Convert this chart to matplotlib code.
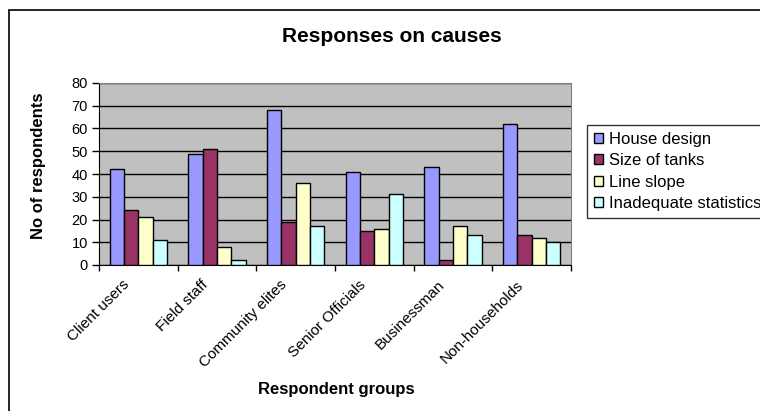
import numpy as np
import matplotlib
matplotlib.use("Agg")
import matplotlib.pyplot as plt
from matplotlib.patches import Rectangle

plt.rcParams['font.family'] = ['Liberation Sans', 'DejaVu Sans']

groups = ["Client users", "Field staff", "Community elites",
          "Senior Officials", "Businessman", "Non-households"]
causes = ["House design", "Size of tanks", "Line slope", "Inadequate statistics"]
house_design = [42, 49, 68, 41, 43, 62]
size_of_tanks = [24, 51, 19, 15, 2, 13]
line_slope = [21, 8, 36, 16, 17, 12]
inadequate_stats = [11, 2, 17, 31, 13, 10]
colors = ["#9999FF", "#993366", "#FFFFCC", "#CCFFFF"]

W, H = 760, 411
fig = plt.figure(figsize=(W / 100, H / 100), dpi=100)
fig.patch.set_facecolor("white")

# outer chart border
fig.patches.append(Rectangle((9 / W, -0.02), 1.0, 1 - 10 / H + 0.02,
                             transform=fig.transFigure, fill=False,
                             edgecolor="black", lw=1.2))

ax = fig.add_axes([99 / W, 1 - 265 / H, 472 / W, 182 / H])
ax.set_facecolor("#C0C0C0")

x = np.arange(len(groups))
bw = 1 / 5.5
series = [house_design, size_of_tanks, line_slope, inadequate_stats]
for i, (vals, c, name) in enumerate(zip(series, colors, causes)):
    ax.bar(x + (i - 1.5) * bw, vals, bw, color=c, edgecolor="black",
           lw=1, label=name, zorder=3)

ax.set_xlim(-0.5, len(groups) - 0.5)
ax.set_ylim(0, 80)
ax.set_yticks(range(0, 81, 10))
ax.yaxis.grid(True, color="black", lw=1, zorder=1)
ax.set_axisbelow(True)
ax.tick_params(axis="y", direction="out", length=5, width=1, labelsize=10.5, pad=3)

ax.set_xticks(np.arange(len(groups) + 1) - 0.5)
ax.set_xticklabels([])
ax.tick_params(axis="x", direction="out", length=4, width=1)
for xi, g in zip(x, groups):
    ax.text(xi - 0.2, -5.5, g, rotation=45, ha="right", va="top",
            rotation_mode="anchor", fontsize=11, transform=ax.transData)

for s in ["top", "right"]:
    ax.spines[s].set_color("#808080")
for s in ["left", "bottom"]:
    ax.spines[s].set_color("black")

fig.text(392 / W, 1 - 36 / H, "Responses on causes", ha="center", va="center",
         fontsize=15, fontweight="bold")
fig.text(336 / W, 1 - 389 / H, "Respondent groups", ha="center", va="center",
         fontsize=12, fontweight="bold")
fig.text(39 / W, 1 - 166 / H, "No of respondents", ha="center", va="center",
         rotation=90, fontsize=12, fontweight="bold")

leg = fig.legend(loc="upper left", bbox_to_anchor=(587 / W, 1 - 125 / H),
                 fontsize=12, frameon=True, fancybox=False, shadow=False,
                 handlelength=0.55, handleheight=0.55, handletextpad=0.35,
                 labelspacing=0.38, borderpad=0.42, borderaxespad=0)
leg.get_frame().set_edgecolor("black")
leg.get_frame().set_linewidth(1)

fig.savefig("out.png", dpi=100)
